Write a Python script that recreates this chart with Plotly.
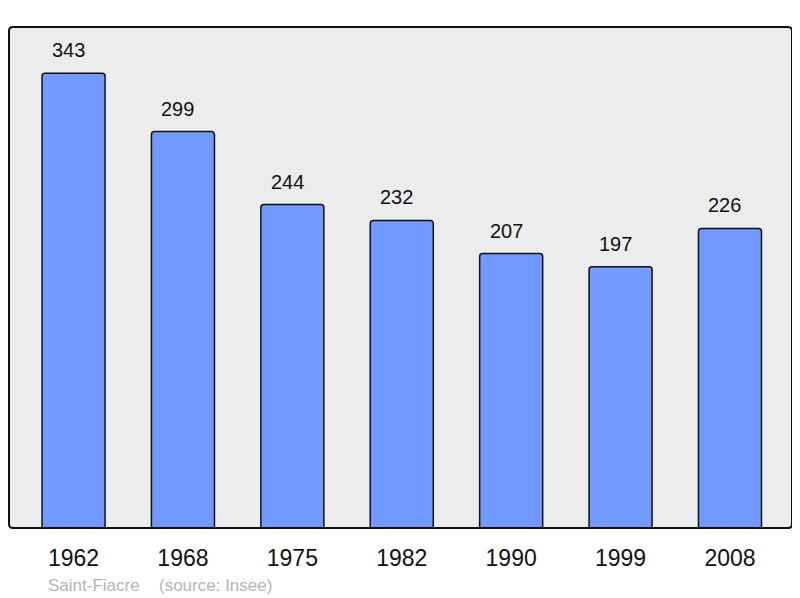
import plotly.graph_objects as go

years = ["1962", "1968", "1975", "1982", "1990", "1999", "2008"]
population = [343, 299, 244, 232, 207, 197, 226]
commune = "Saint-Fiacre"
source = "(source: Insee)"

positions = list(range(len(years)))

fig = go.Figure()
fig.add_trace(go.Bar(
    x=positions, y=population, width=0.576,
    marker=dict(color="#7199ff", line=dict(color="#111111", width=1.5), cornerradius=3),
    hoverinfo="skip",
))

for p, v in zip(positions, population):
    fig.add_annotation(x=p, y=v, text=str(v), showarrow=False, yanchor="bottom",
                       yshift=10, xshift=-5,
                       font=dict(size=20, color="#111111", family="Liberation Sans"))

# rounded frame
W, H = 783.0, 501.0
rx, ry = 4 / W, 4 / H
path = (f"M {rx},0 L {1-rx},0 Q 1,0 1,{ry} L 1,{1-ry} Q 1,1 {1-rx},1 "
        f"L {rx},1 Q 0,1 0,{1-ry} L 0,{ry} Q 0,0 {rx},0 Z")
fig.add_shape(type="path", xref="paper", yref="paper", path=path,
              line=dict(color="#111111", width=2), layer="above")

fig.add_annotation(xref="paper", yref="paper", x=(46 - 9) / W, y=(528 - 585) / H,
                   text=commune, showarrow=False, xanchor="left", yanchor="middle",
                   font=dict(size=17, color="#b5b5b5", family="Liberation Sans"))
fig.add_annotation(xref="paper", yref="paper", x=(157 - 9) / W, y=(528 - 585) / H,
                   text=source, showarrow=False, xanchor="left", yanchor="middle",
                   font=dict(size=17, color="#b5b5b5", family="Liberation Sans"))

# the page body has an 8px default margin, so the figure is drawn 8px in
fig.update_layout(
    width=792, height=590,
    margin=dict(l=1, r=8, t=19, b=70),
    paper_bgcolor="white", plot_bgcolor="#ececec",
    showlegend=False,
    font=dict(family="Liberation Sans"),
    xaxis=dict(range=[-0.59, 6.567], tickvals=positions, ticktext=years,
               ticks="outside", ticklen=9, tickcolor="rgba(0,0,0,0)",
               tickfont=dict(size=23, color="#111111"), showgrid=False, zeroline=False,
               fixedrange=True),
    yaxis=dict(range=[0, 377.9], showticklabels=False, showgrid=False, zeroline=False,
               fixedrange=True),
)

fig.write_html("out.html")
